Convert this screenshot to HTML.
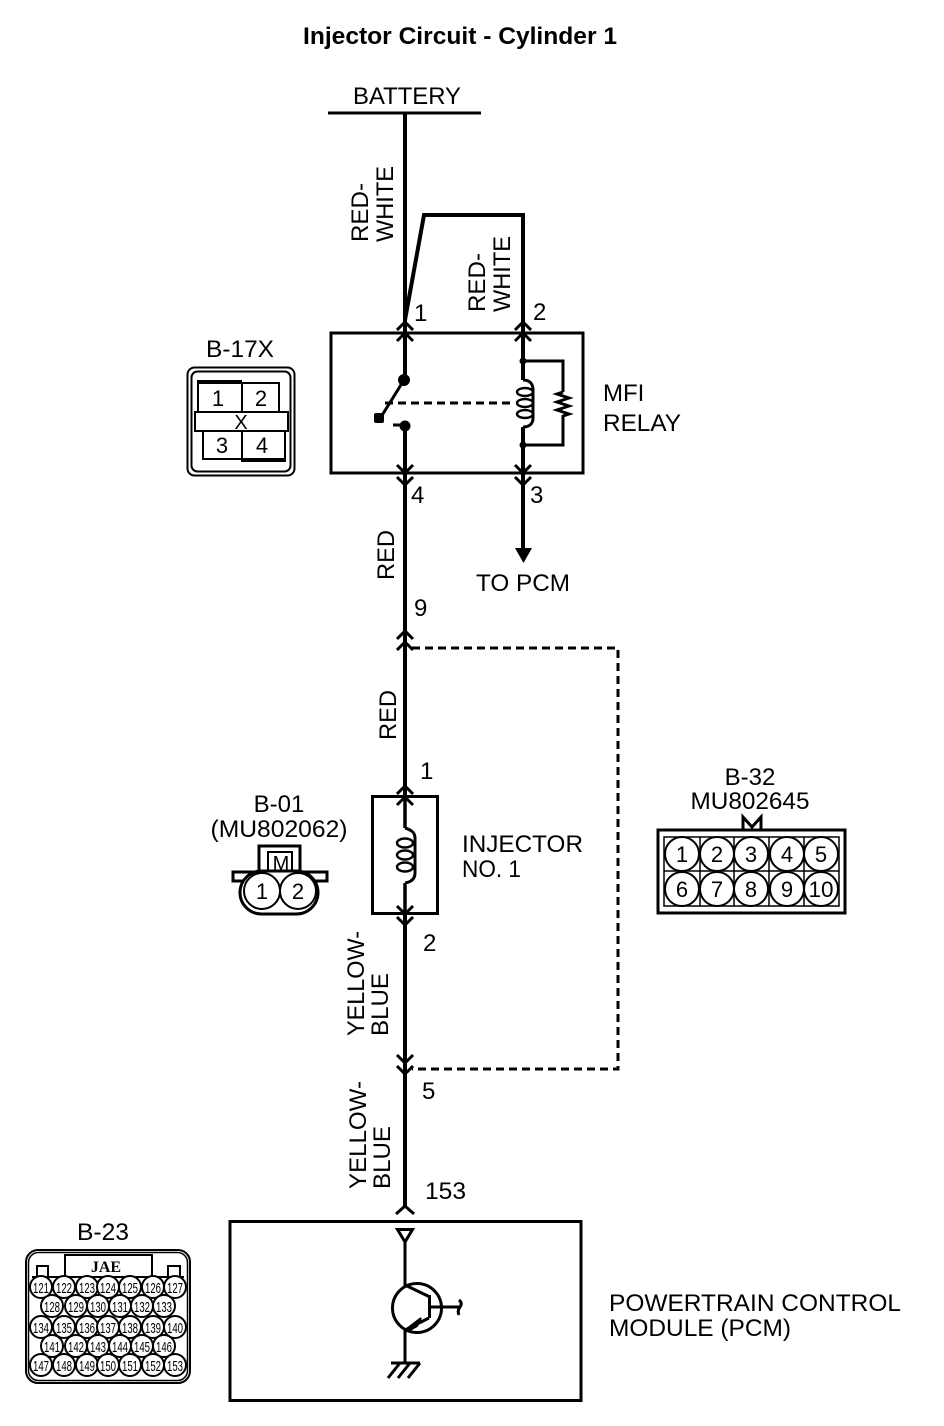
<!DOCTYPE html>
<html><head><meta charset="utf-8"><style>
html,body{margin:0;padding:0;background:#fff}
svg{display:block}
text{font-family:"Liberation Sans",sans-serif;font-size:24px;fill:#000}
.w{fill:none;stroke:#000;stroke-width:3}
.t{fill:none;stroke:#000;stroke-width:4}
.s{fill:none;stroke:#000;stroke-width:2}
.c{fill:#fff;stroke:#000;stroke-width:2}
.m text,text.m{text-anchor:middle}
.p text{font-size:22px;text-anchor:middle}
.j text{font-size:15px;text-anchor:middle}
.j circle{fill:#fff;stroke:#000;stroke-width:2}
</style></head><body>
<svg width="944" height="1426" viewBox="0 0 944 1426" xmlns="http://www.w3.org/2000/svg">
<text x="303" y="44" font-weight="bold" style="font-weight:bold" textLength="314" lengthAdjust="spacingAndGlyphs">Injector Circuit - Cylinder 1</text>
<text x="353" y="104" textLength="108" lengthAdjust="spacingAndGlyphs">BATTERY</text>
<path class="w" d="M328 113H481"/>
<path class="t" d="M405 113V380M405 426V1206"/>
<path class="t" d="M405 320L424 215H523V380M523 427V550" stroke-linejoin="miter"/>
<rect class="w" x="331" y="333" width="252" height="140"/>
<path class="w" d="M397 330L405 322L413 330M397 341L405 333L413 341M515 330L523 322L531 330M515 341L523 333L531 341"/>
<path class="w" d="M397 465L405 473L413 465M397 477L405 485L413 477M515 465L523 473L531 465M515 477L523 485L531 477"/>
<text x="414" y="321">1</text><text x="533" y="320">2</text><text x="411" y="503">4</text><text x="530" y="503">3</text>
<!-- switch -->
<circle cx="404" cy="380" r="6"/><circle cx="405" cy="426" r="5.5"/>
<path class="w" d="M404 380L381 417M405 425L393 425"/>
<rect x="374" y="413" width="10" height="10" rx="2"/>
<path d="M385 403H515" fill="none" stroke="#000" stroke-width="3" stroke-dasharray="8 5"/>
<!-- coil -->
<circle cx="523" cy="361" r="3.5"/><circle cx="523" cy="445" r="3.5"/>
<path class="w" d="M523 361H563V392M563 415V445H523"/>
<path class="w" d="M563 392L557 394L569 398L557 402L569 406L557 410L569 414L563 416"/>
<path class="w" d="M523 380C530 380 533 384 533 390V418C533 424 529 427 523 427"/>
<g class="s" style="stroke-width:2.400">
<ellipse cx="525" cy="392" rx="8" ry="4"/><ellipse cx="525" cy="403" rx="8" ry="4"/><ellipse cx="525" cy="414" rx="8" ry="4"/>
</g>
<path d="M515 548H532L523.500 563Z"/>
<text x="603" y="401">MFI</text><text x="603" y="431" textLength="78" lengthAdjust="spacingAndGlyphs">RELAY</text>
<text x="476" y="591" textLength="94" lengthAdjust="spacingAndGlyphs">TO PCM</text>
<!-- rotated labels -->
<g>
<text transform="translate(368,242) rotate(-90)" textLength="59" lengthAdjust="spacingAndGlyphs">RED-</text>
<text transform="translate(393,242) rotate(-90)" textLength="76" lengthAdjust="spacingAndGlyphs">WHITE</text>
<text transform="translate(485,312) rotate(-90)" textLength="59" lengthAdjust="spacingAndGlyphs">RED-</text>
<text transform="translate(510,312) rotate(-90)" textLength="76" lengthAdjust="spacingAndGlyphs">WHITE</text>
<text transform="translate(394,580) rotate(-90)" textLength="50" lengthAdjust="spacingAndGlyphs">RED</text>
<text transform="translate(396,740) rotate(-90)" textLength="50" lengthAdjust="spacingAndGlyphs">RED</text>
<text transform="translate(364,1036) rotate(-90)" textLength="105" lengthAdjust="spacingAndGlyphs">YELLOW-</text>
<text transform="translate(388,1036) rotate(-90)" textLength="63" lengthAdjust="spacingAndGlyphs">BLUE</text>
<text transform="translate(366,1189) rotate(-90)" textLength="108" lengthAdjust="spacingAndGlyphs">YELLOW-</text>
<text transform="translate(390,1189) rotate(-90)" textLength="63" lengthAdjust="spacingAndGlyphs">BLUE</text>
</g>
<!-- junction 9 -->
<text x="414" y="616">9</text>
<path class="w" d="M397 639L405 631L413 639M397 650L405 642L413 650"/>
<path d="M412 648H618V1069H412" fill="none" stroke="#000" stroke-width="3" stroke-dasharray="8 5"/>
<path class="w" d="M397 1055L405 1063L413 1055M397 1066L405 1074L413 1066"/>
<text x="422" y="1099">5</text>
<!-- injector -->
<text x="420" y="779">1</text><text x="423" y="951">2</text>
<rect x="372.500" y="796.500" width="65" height="117" fill="#fff" stroke="#000" stroke-width="3"/>
<path class="t" d="M405 780V828M405 883V925" style="stroke-width:3.500"/>
<path class="w" d="M397 794L405 786L413 794M397 805L405 797L413 805M397 906L405 914L413 906M397 917L405 925L413 917"/>
<path class="w" d="M405 828C412 830 415 833 415 838V873C415 879 411 882 405 883"/>
<g class="s" style="stroke-width:2.400">
<ellipse cx="405" cy="843" rx="8" ry="4.500"/><ellipse cx="405" cy="855" rx="8" ry="4.500"/><ellipse cx="405" cy="867" rx="8" ry="4.500"/>
</g>
<text x="462" y="852" textLength="121" lengthAdjust="spacingAndGlyphs">INJECTOR</text>
<text x="462" y="877" textLength="59" lengthAdjust="spacingAndGlyphs">NO. 1</text>
<!-- B-17X -->
<text class="m" x="240" y="357" textLength="68" lengthAdjust="spacingAndGlyphs">B-17X</text>
<rect class="s" x="187.500" y="367.500" width="107" height="108" rx="7"/>
<rect class="s" x="191.500" y="371.500" width="99" height="100" rx="6"/>
<g class="s">
<rect x="198" y="383" width="81" height="29"/><path d="M242 383V412"/>
<rect x="203" y="431" width="82" height="28"/><path d="M242 431V459"/>
<rect x="195" y="412" width="93" height="19"/>
</g>
<rect x="197" y="380" width="45" height="4"/><rect x="241" y="458" width="45" height="4"/>
<g class="p"><text x="218" y="406">1</text><text x="261" y="406">2</text><text x="222" y="453">3</text><text x="262" y="453">4</text><text x="241" y="429" style="font-size:20px">X</text></g>
<!-- B-01 -->
<text class="m" x="279" y="812">B-01</text>
<text class="m" x="279" y="837" textLength="137" lengthAdjust="spacingAndGlyphs">(MU802062)</text>
<rect class="w" x="259" y="846" width="41" height="26"/>
<rect class="s" x="268" y="852" width="24" height="20"/>
<text class="m" x="281" y="870" style="font-size:20px">M</text>
<rect class="w" x="233" y="872" width="94" height="9"/>
<rect x="240" y="871" width="78" height="43" rx="21.500" fill="#fff" stroke="#000" stroke-width="3"/>
<circle class="c" cx="262" cy="891" r="18"/><circle class="c" cx="298" cy="891" r="18"/>
<g class="p"><text x="262" y="899">1</text><text x="298" y="899">2</text></g>
<!-- B-32 -->
<text class="m" x="750" y="785">B-32</text>
<text class="m" x="750" y="809" textLength="119" lengthAdjust="spacingAndGlyphs">MU802645</text>
<path class="w" d="M743 829V817L752 827L761 817V829"/>
<rect class="w" x="658" y="830" width="187" height="83"/>
<rect class="s" x="664" y="837" width="175" height="69" style="stroke-width:1.500"/>
<path class="s" d="M700 837V906M734 837V906M769 837V906M804 837V906M664 871H839" style="stroke-width:1.500"/>
<g>
<circle class="c" cx="682" cy="854" r="17"/><circle class="c" cx="717" cy="854" r="17"/><circle class="c" cx="751" cy="854" r="17"/><circle class="c" cx="787" cy="854" r="17"/><circle class="c" cx="821" cy="854" r="17"/>
<circle class="c" cx="682" cy="889" r="17"/><circle class="c" cx="717" cy="889" r="17"/><circle class="c" cx="751" cy="889" r="17"/><circle class="c" cx="787" cy="889" r="17"/><circle class="c" cx="821" cy="889" r="17"/>
</g>
<g class="p">
<text x="682" y="862">1</text><text x="717" y="862">2</text><text x="751" y="862">3</text><text x="787" y="862">4</text><text x="821" y="862">5</text>
<text x="682" y="897">6</text><text x="717" y="897">7</text><text x="751" y="897">8</text><text x="787" y="897">9</text><text x="821" y="897" textLength="25" lengthAdjust="spacingAndGlyphs">10</text>
</g>
<!-- B-23 -->
<text class="m" x="103" y="1240" textLength="52" lengthAdjust="spacingAndGlyphs">B-23</text>
<rect class="s" x="26" y="1250" width="164" height="133" rx="12"/>
<rect class="s" x="28.500" y="1252.500" width="159" height="128" rx="10" style="stroke-width:1.500"/>
<rect class="s" x="65" y="1255" width="87" height="22"/>
<rect class="s" x="37" y="1266" width="11" height="11"/><rect class="s" x="168" y="1266" width="12" height="11"/>
<path class="s" d="M32 1277H184"/>
<text class="m" x="106" y="1272" style="font-family:'Liberation Serif',serif;font-size:16px;font-weight:bold">JAE</text>
<g class="j">
<circle cx="41" cy="1287" r="11"/><circle cx="64" cy="1287" r="11"/><circle cx="87" cy="1287" r="11"/><circle cx="108" cy="1287" r="11"/><circle cx="130" cy="1287" r="11"/><circle cx="153" cy="1287" r="11"/><circle cx="175" cy="1287" r="11"/>
<circle cx="52" cy="1306" r="11"/><circle cx="76" cy="1306" r="11"/><circle cx="98" cy="1306" r="11"/><circle cx="120" cy="1306" r="11"/><circle cx="142" cy="1306" r="11"/><circle cx="164" cy="1306" r="11"/>
<circle cx="41" cy="1327" r="11"/><circle cx="64" cy="1327" r="11"/><circle cx="87" cy="1327" r="11"/><circle cx="108" cy="1327" r="11"/><circle cx="130" cy="1327" r="11"/><circle cx="153" cy="1327" r="11"/><circle cx="175" cy="1327" r="11"/>
<circle cx="52" cy="1346" r="11"/><circle cx="76" cy="1346" r="11"/><circle cx="98" cy="1346" r="11"/><circle cx="120" cy="1346" r="11"/><circle cx="142" cy="1346" r="11"/><circle cx="164" cy="1346" r="11"/>
<circle cx="41" cy="1365" r="11"/><circle cx="64" cy="1365" r="11"/><circle cx="87" cy="1365" r="11"/><circle cx="108" cy="1365" r="11"/><circle cx="130" cy="1365" r="11"/><circle cx="153" cy="1365" r="11"/><circle cx="175" cy="1365" r="11"/>
<text x="41" y="1293" textLength="16" lengthAdjust="spacingAndGlyphs">121</text><text x="64" y="1293" textLength="16" lengthAdjust="spacingAndGlyphs">122</text><text x="87" y="1293" textLength="16" lengthAdjust="spacingAndGlyphs">123</text><text x="108" y="1293" textLength="16" lengthAdjust="spacingAndGlyphs">124</text><text x="130" y="1293" textLength="16" lengthAdjust="spacingAndGlyphs">125</text><text x="153" y="1293" textLength="16" lengthAdjust="spacingAndGlyphs">126</text><text x="175" y="1293" textLength="16" lengthAdjust="spacingAndGlyphs">127</text>
<text x="52" y="1312" textLength="16" lengthAdjust="spacingAndGlyphs">128</text><text x="76" y="1312" textLength="16" lengthAdjust="spacingAndGlyphs">129</text><text x="98" y="1312" textLength="16" lengthAdjust="spacingAndGlyphs">130</text><text x="120" y="1312" textLength="16" lengthAdjust="spacingAndGlyphs">131</text><text x="142" y="1312" textLength="16" lengthAdjust="spacingAndGlyphs">132</text><text x="164" y="1312" textLength="16" lengthAdjust="spacingAndGlyphs">133</text>
<text x="41" y="1333" textLength="16" lengthAdjust="spacingAndGlyphs">134</text><text x="64" y="1333" textLength="16" lengthAdjust="spacingAndGlyphs">135</text><text x="87" y="1333" textLength="16" lengthAdjust="spacingAndGlyphs">136</text><text x="108" y="1333" textLength="16" lengthAdjust="spacingAndGlyphs">137</text><text x="130" y="1333" textLength="16" lengthAdjust="spacingAndGlyphs">138</text><text x="153" y="1333" textLength="16" lengthAdjust="spacingAndGlyphs">139</text><text x="175" y="1333" textLength="16" lengthAdjust="spacingAndGlyphs">140</text>
<text x="52" y="1352" textLength="16" lengthAdjust="spacingAndGlyphs">141</text><text x="76" y="1352" textLength="16" lengthAdjust="spacingAndGlyphs">142</text><text x="98" y="1352" textLength="16" lengthAdjust="spacingAndGlyphs">143</text><text x="120" y="1352" textLength="16" lengthAdjust="spacingAndGlyphs">144</text><text x="142" y="1352" textLength="16" lengthAdjust="spacingAndGlyphs">145</text><text x="164" y="1352" textLength="16" lengthAdjust="spacingAndGlyphs">146</text>
<text x="41" y="1371" textLength="16" lengthAdjust="spacingAndGlyphs">147</text><text x="64" y="1371" textLength="16" lengthAdjust="spacingAndGlyphs">148</text><text x="87" y="1371" textLength="16" lengthAdjust="spacingAndGlyphs">149</text><text x="108" y="1371" textLength="16" lengthAdjust="spacingAndGlyphs">150</text><text x="130" y="1371" textLength="16" lengthAdjust="spacingAndGlyphs">151</text><text x="153" y="1371" textLength="16" lengthAdjust="spacingAndGlyphs">152</text><text x="175" y="1371" textLength="16" lengthAdjust="spacingAndGlyphs">153</text>
</g>
<!-- PCM -->
<text x="425" y="1199" textLength="41" lengthAdjust="spacingAndGlyphs">153</text>
<path class="w" d="M396 1214L405 1206L414 1214"/>
<rect class="w" x="230" y="1221.500" width="351" height="179"/>
<path class="w" d="M397.500 1229.500H412.500L405 1242Z"/>
<path class="w" d="M405 1242V1285L430 1297M429.500 1295V1318M430 1307H460M459 1300Q463 1303 460 1307Q457 1311 459 1315M429 1318L405 1330V1363"/>
<circle class="w" cx="417" cy="1308" r="24.500"/>
<path d="M404 1331L421 1318L417 1326L410 1330Z" stroke="#000" stroke-width="2"/>
<path class="w" d="M391 1363H420M400 1363L388 1378M410 1363L398 1378M420 1363L408 1378"/>
<text x="609" y="1311" textLength="292" lengthAdjust="spacingAndGlyphs">POWERTRAIN CONTROL</text>
<text x="609" y="1336" textLength="182" lengthAdjust="spacingAndGlyphs">MODULE (PCM)</text>
</svg>
</body></html>
